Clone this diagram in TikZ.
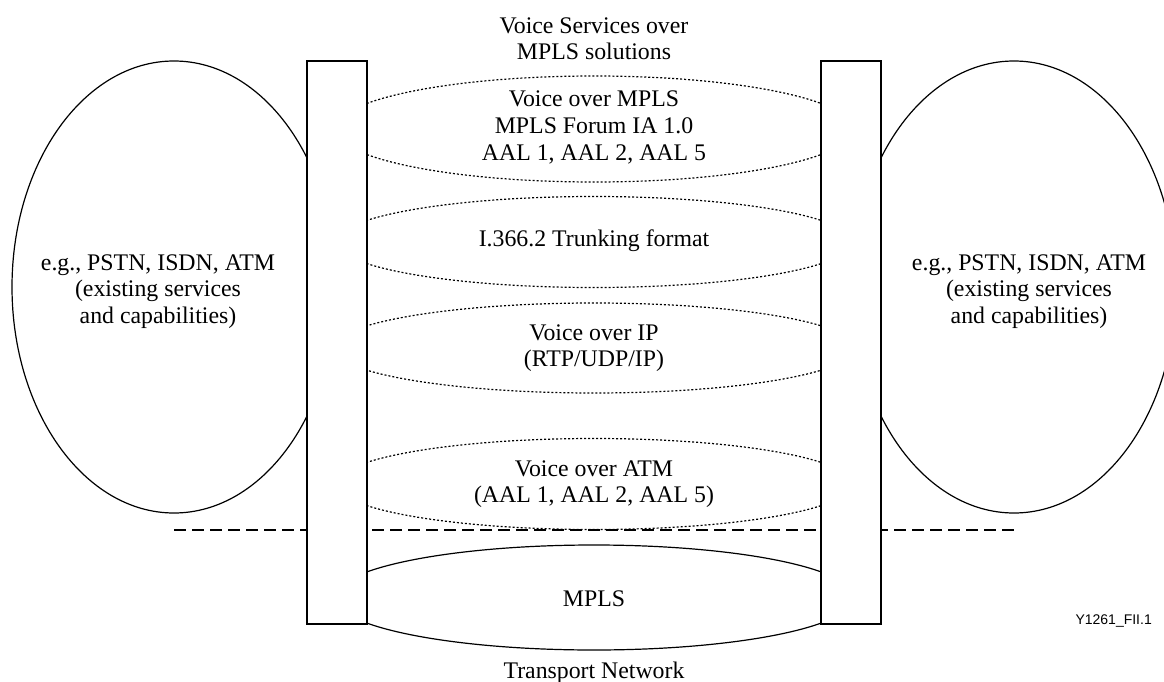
\documentclass[tikz,border=0pt]{standalone}
\usepackage{fontspec}
\setmainfont{Liberation Serif}
\newfontfamily\figsans{Liberation Sans}
% centred multi-line label whose baseline is the first line's baseline
\newcommand{\stack}[1]{\begin{tabular}[t]{@{}c@{}}#1\end{tabular}}

\begin{document}
\begin{tikzpicture}[x=1pt,y=-1pt,
  txt/.style={anchor=base, inner sep=0pt, font=\fontsize{23.8}{26.7}\selectfont},
  shell/.style={line width=1.2pt},
  layer/.style={line width=1.2pt, dash pattern=on 2pt off 2pt},
  port/.style={draw, line width=1.3pt, fill=white},
  border/.style={line width=1.6pt, dash pattern=on 12pt off 6pt}]
\useasboundingbox (0,0) rectangle (1164,682);

% existing networks on both sides
\begin{scope}
  \clip (0,0) rectangle (1164,682);
  \draw[shell] (174,287) ellipse [x radius=162, y radius=226];
  \draw[shell] (1014,287) ellipse [x radius=162, y radius=226];
\end{scope}

% voice service layers
\draw[layer] (594,129)   ellipse [x radius=259, y radius=53];
\draw[layer] (594,242)   ellipse [x radius=258, y radius=45.5];
\draw[layer] (594,348)   ellipse [x radius=261, y radius=45];
\draw[layer] (594,484)   ellipse [x radius=258, y radius=45.5];
% MPLS transport
\draw[shell] (594,597.5) ellipse [x radius=260, y radius=52.5];

% service / transport boundary
\draw[border] (174,530) -- (1014,530);

% interworking functions
\draw[port] (307,61) rectangle (367,624);
\draw[port] (821,61) rectangle (881,624);

% labels
\node[txt] (title) at (594,33.3) {\stack{Voice Services over\\MPLS solutions}};
\node[txt] (vompls) at (594,107) {\stack{Voice over MPLS\\MPLS Forum IA 1.0\\AAL 1, AAL 2, AAL 5}};
\node[txt] (trunk) at (594,246.7) {I.366.2 Trunking format};
\node[txt] (voip) at (594,340) {\stack{Voice over IP\\(RTP/UDP/IP)}};
\node[txt] (voatm) at (594,476) {\stack{Voice over ATM\\(AAL 1, AAL 2, AAL 5)}};
\node[txt] (mpls) at (594,606.7) {MPLS};
\node[txt] (transport) at (594,678) {Transport Network};
\node[txt] (legacyL) at (158,270) {\stack{e.g., PSTN, ISDN, ATM\\(existing services\\and capabilities)}};
\node[txt] (legacyR) at (1029,270) {\stack{e.g., PSTN, ISDN, ATM\\(existing services\\and capabilities)}};
\node[anchor=base east, inner sep=0pt, font=\figsans\fontsize{14}{16}\selectfont] (fig) at (1152,624.3) {Y1261\_FII.1};
\end{tikzpicture}
\end{document}
